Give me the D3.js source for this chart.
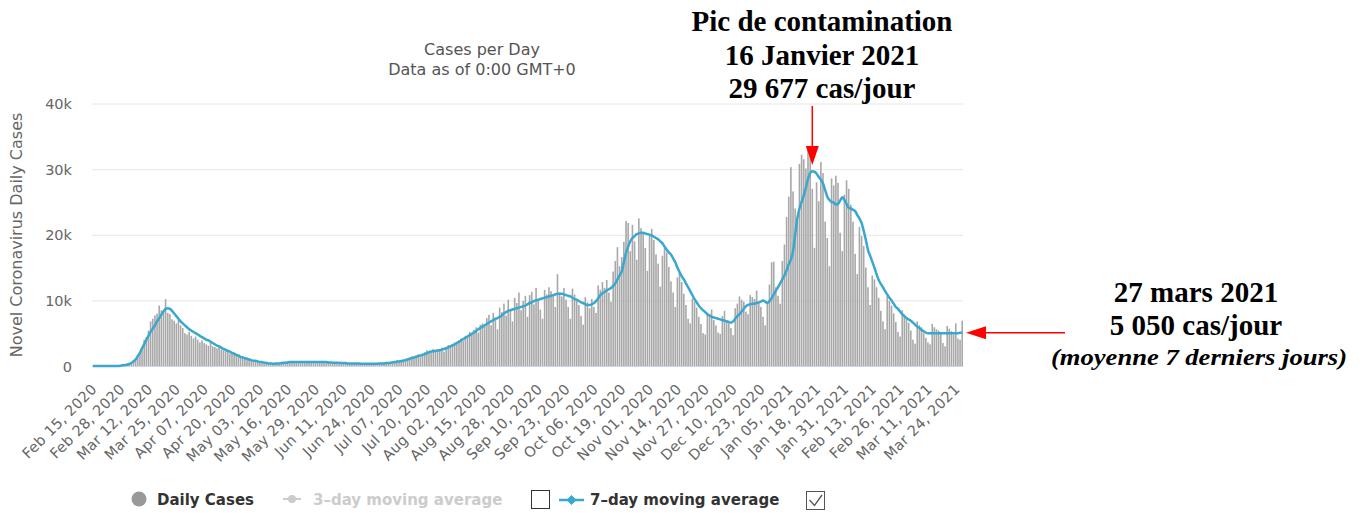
<!DOCTYPE html>
<html>
<head>
<meta charset="utf-8">
<script src="https://cdn.jsdelivr.net/npm/d3@7"></script>
<style>
  html, body { margin: 0; padding: 0; background: #fff; }
  svg { display: block; }
</style>
</head>
<body>
<div id="chart"></div>
<script>
// daily new cases, in thousands, Feb 15 2020 -> Mar 27 2021 (one value per day)
var dailyK = [
  0,0,0,0,0,0,0,
  0,0,0,0,0,0.1,0.1,
  0.1,0.2,0.3,0.4,0.6,0.8,1.2,
  1.5,2.0,2.9,4.0,4.4,5.4,6.8,
  7.2,7.7,8.0,9.2,8.5,8.3,10.2,
  8.1,7.9,7.1,6.9,6.5,7.2,6.2,
  5.8,5.0,4.8,5.2,4.6,4.2,4.5,
  4.0,3.6,3.9,3.5,3.3,3.1,3.6,
  3.0,2.9,2.7,3.0,2.5,2.4,2.3,
  2.2,1.9,2.0,1.8,1.7,1.5,1.4,
  1.3,1.2,1.1,1.0,0.9,0.8,0.9,
  0.7,0.6,0.7,0.5,0.5,0.4,0.4,
  0.3,0.4,0.5,0.4,0.5,0.6,0.5,
  0.6,0.5,0.6,0.7,0.6,0.5,0.6,
  0.6,0.7,0.6,0.5,0.6,0.6,0.7,
  0.6,0.5,0.6,0.7,0.6,0.5,0.6,
  0.5,0.6,0.5,0.4,0.5,0.5,0.4,
  0.4,0.5,0.4,0.4,0.3,0.4,0.4,
  0.3,0.4,0.4,0.3,0.4,0.3,0.4,
  0.4,0.3,0.5,0.4,0.5,0.6,0.5,
  0.6,0.7,0.9,0.8,0.9,1.0,1.1,
  1.0,1.3,1.5,1.2,1.6,1.8,1.5,
  1.9,2.1,2.4,2.0,2.2,2.6,2.3,
  2.5,2.4,2.8,2.2,2.7,3.2,2.9,
  3.3,3.6,3.4,3.9,4.2,3.8,4.6,
  4.5,5.2,4.8,5.5,5.9,5.1,6.3,
  6.5,6.0,7.3,7.8,6.2,8.1,7.0,
  5.6,8.9,8.2,9.5,7.7,10.1,8.4,
  6.8,10.4,9.6,11.2,8.5,9.9,10.7,
  7.5,10.8,11.3,9.4,11.9,10.2,8.6,
  7.2,11.6,10.9,12.0,11.4,10.8,9.0,
  14.0,11.2,10.6,11.9,10.1,9.0,7.2,
  11.8,10.9,10.2,9.3,7.6,6.3,10.5,
  9.7,8.8,10.2,9.0,8.1,12.3,11.6,
  12.8,11.9,13.1,11.2,9.8,14.4,16.0,
  18.1,15.2,16.6,18.9,22.1,21.8,17.5,
  21.5,19.0,16.2,22.5,21.0,20.3,18.0,
  14.5,19.8,20.9,19.2,17.0,15.6,12.1,
  16.8,18.0,17.3,15.1,12.9,11.2,9.0,
  13.5,14.2,12.8,11.0,9.3,7.2,6.5,
  10.3,9.8,8.9,7.5,6.4,5.0,4.8,
  8.1,7.9,8.6,7.0,6.2,5.1,4.9,
  7.6,8.4,7.0,6.5,5.8,4.7,8.8,
  9.5,10.6,10.1,9.8,8.3,7.9,10.8,
  10.5,10.2,11.5,9.6,9.0,7.5,6.2,
  9.8,12.4,15.8,15.9,12.0,10.7,9.5,
  16.0,18.5,22.7,25.8,30.3,26.6,24.0,
  22.1,30.8,32.2,31.5,30.1,33.0,32.5,
  27.0,18.0,28.0,25.1,31.1,29.4,22.0,
  19.5,15.2,28.6,27.5,29.0,27.9,20.3,
  17.5,26.1,28.3,27.0,24.6,22.0,17.1,
  14.0,21.2,19.8,18.3,15.0,12.0,9.3,
  13.8,13.2,12.0,10.4,8.4,6.8,5.6,
  10.7,9.9,9.2,8.0,6.7,5.2,4.5,
  8.5,7.7,7.3,6.6,5.4,4.0,3.4,
  6.8,6.2,5.9,5.0,4.3,3.6,3.3,
  6.4,5.9,5.6,5.4,5.0,3.5,3.0,
  6.1,5.7,5.3,4.8,6.5,4.2,4.0,
  6.9
];

// 7-day moving average, in thousands, same days
var avg7K = [
  0,0,0,0,0,0,0,0,0,0,
  0,0,0,0.05,0.1,0.15,0.2,0.3,0.45,0.7,
  1.0,1.5,2.0,2.7,3.3,4.0,4.6,5.2,5.7,6.2,
  6.8,7.3,7.8,8.3,8.7,8.8,8.7,8.4,8.0,7.6,
  7.2,6.8,6.5,6.2,5.9,5.6,5.4,5.2,5.0,4.8,
  4.6,4.4,4.2,4.0,3.9,3.7,3.5,3.3,3.1,3.0,
  2.8,2.6,2.5,2.3,2.2,2.0,1.9,1.7,1.6,1.4,
  1.3,1.2,1.1,1.0,0.9,0.8,0.8,0.7,0.6,0.6,
  0.5,0.5,0.4,0.4,0.35,0.35,0.4,0.4,0.45,0.5,
  0.5,0.55,0.6,0.6,0.6,0.6,0.6,0.6,0.6,0.6,
  0.6,0.6,0.6,0.6,0.6,0.6,0.6,0.6,0.6,0.6,
  0.55,0.55,0.5,0.5,0.5,0.5,0.45,0.45,0.45,0.4,
  0.4,0.4,0.4,0.4,0.4,0.35,0.35,0.35,0.35,0.35,
  0.35,0.35,0.35,0.35,0.4,0.4,0.4,0.45,0.45,0.5,
  0.55,0.6,0.65,0.7,0.75,0.8,0.9,1.0,1.1,1.2,
  1.3,1.4,1.5,1.6,1.7,1.8,1.95,2.1,2.2,2.25,
  2.3,2.35,2.4,2.5,2.6,2.7,2.85,3.0,3.15,3.3,
  3.5,3.7,3.9,4.1,4.3,4.5,4.7,4.9,5.1,5.3,
  5.6,5.8,6.0,6.2,6.4,6.6,6.8,7.0,7.2,7.3,
  7.5,7.7,8.0,8.2,8.4,8.5,8.6,8.7,8.8,8.9,
  9.0,9.1,9.2,9.4,9.6,9.7,9.9,10.0,10.1,10.2,
  10.3,10.4,10.5,10.6,10.7,10.8,10.9,11.0,11.0,11.0,
  10.9,10.8,10.7,10.6,10.4,10.2,10.1,9.9,9.7,9.6,
  9.4,9.3,9.3,9.4,9.6,9.9,10.3,10.8,11.1,11.3,
  11.5,11.7,11.9,12.2,12.6,13.2,13.8,14.4,15.8,17.2,
  18.2,19.0,19.5,19.8,20.1,20.2,20.3,20.3,20.2,20.1,
  20.0,19.9,19.7,19.5,19.3,19.0,18.7,18.2,17.7,17.3,
  17.0,16.4,15.8,15.0,14.3,13.7,13.2,12.6,12.0,11.4,
  10.8,10.2,9.7,9.2,8.8,8.5,8.2,7.9,7.7,7.5,
  7.4,7.3,7.2,7.1,7.0,6.9,6.8,6.7,6.6,6.8,
  7.2,7.6,7.9,8.3,8.7,9.1,9.3,9.4,9.5,9.5,
  9.6,9.7,9.8,10.0,9.8,9.6,9.9,10.3,10.9,11.5,
  12.0,12.6,13.2,13.8,14.6,15.5,16.2,17.5,20.0,22.5,
  24.0,25.0,26.0,27.2,28.5,29.4,29.677,29.6,29.3,28.8,
  28.4,27.8,26.8,25.8,25.3,25.0,24.9,24.6,24.7,25.2,
  25.7,25.3,24.7,24.1,24.0,23.8,23.6,23.0,22.5,21.8,
  20.6,19.2,17.7,16.8,15.9,15.0,14.0,13.1,12.5,12.0,
  11.4,10.9,10.4,10.0,9.5,9.0,8.7,8.3,7.9,7.6,
  7.3,7.1,6.9,6.6,6.3,6.0,5.8,5.5,5.3,5.1,
  5.0,5.0,5.0,5.0,5.0,5.0,5.0,5.0,5.0,5.0,
  5.0,5.0,5.0,5.0,5.0,5.05,5.05
];

var tickLabels = [
  "Feb 15, 2020","Feb 28, 2020","Mar 12, 2020","Mar 25, 2020","Apr 07, 2020","Apr 20, 2020",
  "May 03, 2020","May 16, 2020","May 29, 2020","Jun 11, 2020","Jun 24, 2020","Jul 07, 2020",
  "Jul 20, 2020","Aug 02, 2020","Aug 15, 2020","Aug 28, 2020","Sep 10, 2020","Sep 23, 2020",
  "Oct 06, 2020","Oct 19, 2020","Nov 01, 2020","Nov 14, 2020","Nov 27, 2020","Dec 10, 2020",
  "Dec 23, 2020","Jan 05, 2021","Jan 18, 2021","Jan 31, 2021","Feb 13, 2021","Feb 26, 2021",
  "Mar 11, 2021","Mar 24, 2021"
];

var yTicks = [0, 10000, 20000, 30000, 40000];

var peakLines = ["Pic de contamination", "16 Janvier 2021", "29 677 cas/jour"];
var lastLines = ["27 mars 2021", "5 050 cas/jour"];
var lastNote = "(moyenne 7 derniers jours)";
var peakDay = "Jan 16, 2021";

var width = 1365, height = 513;
var startDay = new Date(2020, 1, 15);
var parse = d3.timeParse("%b %d, %Y");
var dayIndex = function(s){ return d3.timeDay.count(startDay, parse(s)); };

var svg = d3.select("#chart").append("svg")
    .attr("width", width)
    .attr("height", height);

// x: one band per day
var x = d3.scaleBand()
    .domain(d3.range(dailyK.length))
    .range([92, 963])
    .paddingInner(0.25);

var y = d3.scaleLinear()
    .domain([0, 40000])
    .range([366, 103.5]);

var xc = function(i){ return x(i) + x.bandwidth() / 2; };
var sans = "'DejaVu Sans', Verdana, sans-serif";

// gridlines + y labels
var yAxis = svg.append("g")
    .attr("transform", "translate(92,0)")
    .call(d3.axisLeft(y).tickValues(yTicks).tickSize(-871)
      .tickFormat(function(d){ return d === 0 ? "0" : (d / 1000) + "k"; }));
yAxis.select(".domain").remove();
yAxis.selectAll(".tick line").attr("stroke", "#e6e6e6").attr("stroke-width", 1);
yAxis.selectAll(".tick text")
    .attr("x", -20)
    .attr("dy", "0.35em")
    .style("font-family", sans)
    .style("font-size", "14.5px")
    .attr("fill", "#666");

svg.append("text")
    .attr("transform", "translate(22,235) rotate(-90)")
    .attr("text-anchor", "middle")
    .style("font-family", sans)
    .style("font-size", "16px")
    .attr("fill", "#666")
    .text("Novel Coronavirus Daily Cases");

// title
svg.append("text")
    .attr("x", 482).attr("y", 55)
    .attr("text-anchor", "middle")
    .style("font-family", sans).style("font-size", "16px")
    .attr("fill", "#555")
    .text("Cases per Day");
svg.append("text")
    .attr("x", 482).attr("y", 75)
    .attr("text-anchor", "middle")
    .style("font-family", sans).style("font-size", "16px")
    .attr("fill", "#555")
    .text("Data as of 0:00 GMT+0");

// bars
svg.append("g").selectAll("rect")
    .data(dailyK)
    .enter().append("rect")
    .attr("x", function(d, i){ return x(i); })
    .attr("y", function(d){ return y(d * 1000); })
    .attr("width", x.bandwidth())
    .attr("height", function(d){ return y(0) - y(d * 1000); })
    .attr("fill", "#a8a8a8");

// x axis
var tickIdx = tickLabels.map(dayIndex);
var xAxis = svg.append("g")
    .attr("transform", "translate(0,366)")
    .call(d3.axisBottom(x).tickValues(tickIdx).tickSize(0)
      .tickFormat(function(d, i){ return tickLabels[i]; }));
xAxis.select(".domain").attr("stroke", "#ccd6eb");
xAxis.selectAll(".tick text")
    .attr("text-anchor", "end")
    .attr("dy", null)
    .attr("transform", "translate(5,24) rotate(-45)")
    .attr("y", 0)
    .attr("x", 0)
    .style("font-family", sans)
    .style("font-size", "14.5px")
    .style("letter-spacing", "0.3px")
    .attr("fill", "#666");

// 7-day line
var line = d3.line()
    .x(function(d, i){ return xc(i); })
    .y(function(d){ return y(d * 1000); })
    .curve(d3.curveMonotoneX);

svg.append("path")
    .datum(avg7K)
    .attr("d", line)
    .attr("fill", "none")
    .attr("stroke", "#3aa7cf")
    .attr("stroke-width", 2.5)
    .attr("stroke-linejoin", "round");

// legend
var lg = svg.append("g");
var legendFont = function(t){
  return t.style("font-family", sans).style("font-size", "15px").style("font-weight", "bold");
};
lg.append("circle").attr("cx", 139).attr("cy", 499).attr("r", 7.5).attr("fill", "#999");
lg.append("text").attr("x", 157).attr("y", 505).call(legendFont)
    .attr("fill", "#333").text("Daily Cases");
lg.append("line").attr("x1", 283).attr("x2", 301).attr("y1", 499).attr("y2", 499)
    .attr("stroke", "#ccc").attr("stroke-width", 2);
lg.append("circle").attr("cx", 292).attr("cy", 499).attr("r", 4).attr("fill", "#ccc");
lg.append("text").attr("x", 313).attr("y", 505).call(legendFont)
    .attr("fill", "#ccc").text("3\u2013day moving average");
lg.append("rect").attr("x", 531.5).attr("y", 490.5).attr("width", 18).attr("height", 18)
    .attr("fill", "#fff").attr("stroke", "#333").attr("stroke-width", 1);
lg.append("line").attr("x1", 559).attr("x2", 584).attr("y1", 500).attr("y2", 500)
    .attr("stroke", "#3aa7cf").attr("stroke-width", 2.5);
lg.append("path").attr("d", "M571.5,495 L576.5,500 L571.5,505 L566.5,500 Z").attr("fill", "#3aa7cf");
lg.append("text").attr("x", 590).attr("y", 505).call(legendFont)
    .attr("fill", "#333").text("7\u2013day moving average");
lg.append("rect").attr("x", 806.5).attr("y", 491.5).attr("width", 18).attr("height", 18)
    .attr("fill", "#fff").attr("stroke", "#555").attr("stroke-width", 1);
lg.append("path").attr("d", "M809.5,500 L814.5,505.5 L822,495")
    .attr("fill", "none").attr("stroke", "#555").attr("stroke-width", 1.3);

// annotations
var serif = "'Liberation Serif', 'Times New Roman', serif";
var pk = xc(dayIndex(peakDay));
svg.append("g").selectAll("text")
    .data(peakLines)
    .enter().append("text")
    .attr("x", 822)
    .attr("y", function(d, i){ return 31 + i * 33.5; })
    .attr("text-anchor", "middle")
    .style("font-family", serif).style("font-size", "29px").style("font-weight", "bold")
    .attr("fill", "#000")
    .text(function(d){ return d; });

svg.append("line")
    .attr("x1", pk).attr("x2", pk).attr("y1", 106).attr("y2", 148)
    .attr("stroke", "#ff0000").attr("stroke-width", 1.5);
svg.append("path")
    .attr("d", "M" + (pk - 6.5) + ",146 L" + (pk + 6.5) + ",146 L" + pk + ",165 Z")
    .attr("fill", "#ff0000");

var last = avg7K.length - 1;
var ly = y(avg7K[last] * 1000);
svg.append("g").selectAll("text")
    .data(lastLines)
    .enter().append("text")
    .attr("x", 1196)
    .attr("y", function(d, i){ return 302 + i * 33; })
    .attr("text-anchor", "middle")
    .style("font-family", serif).style("font-size", "29px").style("font-weight", "bold")
    .attr("fill", "#000")
    .text(function(d){ return d; });
svg.append("text")
    .attr("x", 1199).attr("y", 365)
    .attr("text-anchor", "middle")
    .attr("textLength", 296)
    .attr("lengthAdjust", "spacingAndGlyphs")
    .style("font-family", serif).style("font-size", "24px")
    .style("font-weight", "bold").style("font-style", "italic")
    .attr("fill", "#000")
    .text(lastNote);

svg.append("line")
    .attr("x1", 984).attr("x2", 1065).attr("y1", ly).attr("y2", ly)
    .attr("stroke", "#ff0000").attr("stroke-width", 1.5);
svg.append("path")
    .attr("d", "M986," + (ly - 6.5) + " L986," + (ly + 6.5) + " L966," + ly + " Z")
    .attr("fill", "#ff0000");
</script>
</body>
</html>
